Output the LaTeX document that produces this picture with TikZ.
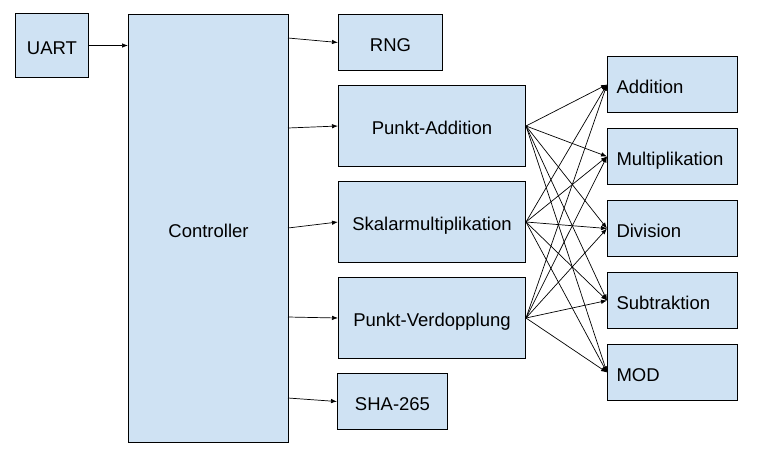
\documentclass[tikz,border=0pt]{standalone}
\usepackage{fontspec}
\setmainfont{Liberation Sans}
\usepackage{tikz}
\usetikzlibrary{arrows.meta}
\definecolor{boxblue}{HTML}{CFE2F3}

\begin{document}
\begin{tikzpicture}[x=1pt, y=-1pt,
    block/.style={draw, line width=1pt, fill=boxblue, rectangle, anchor=north west,
        inner sep=0pt, text height=17.5pt, text depth=0pt, font=\fontsize{18.5}{22}\selectfont},
    unit/.style={block, minimum height=56pt, text width=112pt, inner xsep=9pt, align=left},
    arr/.style={line width=0.7pt, -{Latex[length=6pt, width=4.5pt]}}]
    \useasboundingbox (0,0) rectangle (777,472);

    \node[block, minimum width=73pt, minimum height=64pt] (uart) at (15,13) {UART};
    \node[block, minimum width=160pt, minimum height=428pt] (ctrl) at (128,14) {Controller};
    \node[block, minimum width=104pt, minimum height=56pt] (rng) at (338,14) {RNG};
    \node[block, minimum width=187pt, minimum height=81pt] (padd) at (338,85) {Punkt-Addition};
    \node[block, minimum width=187pt, minimum height=81pt] (smul) at (338,181) {Skalarmultiplikation};
    \node[block, minimum width=187pt, minimum height=81pt] (pdbl) at (338,277) {Punkt-Verdopplung};
    \node[block, minimum width=110pt, minimum height=56pt] (sha) at (337,373) {SHA-265};

    \node[unit] (add) at (607,56) {Addition};
    \node[unit] (mul) at (607,128) {Multiplikation};
    \node[unit] (div) at (607,200) {Division};
    \node[unit] (sub) at (607,272) {Subtraktion};
    \node[unit] (mod) at (607,344) {MOD};

    \coordinate (c-rng) at (288,38);
    \coordinate (c-padd) at (288,128);
    \coordinate (c-smul) at (288,228);
    \coordinate (c-pdbl) at (288,317);
    \coordinate (c-sha) at (288,398);

    \draw[arr] (uart.east) -- (uart.east -| ctrl.west);
    \foreach \b in {rng, padd, smul, pdbl, sha}
        \draw[arr] (c-\b) -- (\b.west);

    \foreach \s in {padd, smul, pdbl}
        \foreach \t in {add, mul, div, sub, mod}
            \draw[arr] (\s.east) -- (\t.west);

\end{tikzpicture}
\end{document}
